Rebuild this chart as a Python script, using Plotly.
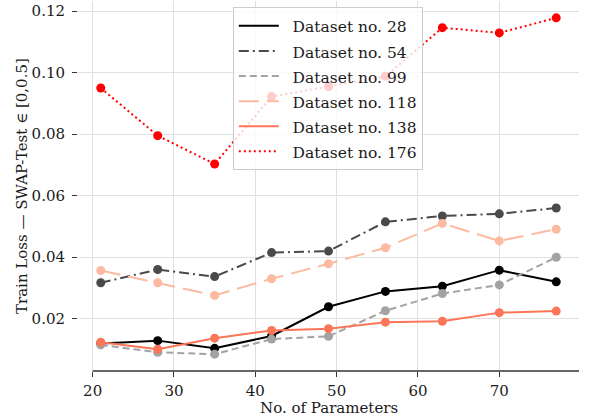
import plotly.graph_objects as go

params = [21, 28, 35, 42, 49, 56, 63, 70, 77]

ds_names = ["Dataset no. 28", "Dataset no. 54", "Dataset no. 99",
            "Dataset no. 118", "Dataset no. 138", "Dataset no. 176"]

loss_28 = [0.0120, 0.0129, 0.0104, 0.0144, 0.0239, 0.0289, 0.0306, 0.0358, 0.0320]
loss_54 = [0.0317, 0.0360, 0.0337, 0.0415, 0.0420, 0.0515, 0.0534, 0.0541, 0.0560]
loss_99 = [0.0115, 0.0091, 0.0085, 0.0134, 0.0143, 0.0226, 0.0282, 0.0310, 0.0400]
loss_118 = [0.0357, 0.0317, 0.0276, 0.0330, 0.0379, 0.0431, 0.0510, 0.0453, 0.0491]
loss_138 = [0.0124, 0.0101, 0.0137, 0.0162, 0.0168, 0.0189, 0.0192, 0.0220, 0.0225]
loss_176 = [0.0950, 0.0795, 0.0703, 0.0922, 0.0955, 0.0988, 0.1146, 0.1129, 0.1178]

series = [loss_28, loss_54, loss_99, loss_118, loss_138, loss_176]
colors = ["#000000", "#4a4a4a", "#a3a3a3", "#fcbba1", "#fb7558", "#ff0000"]
dashes = ["solid", "10px,4px,2px,4px", "7px,4px", "20px,8px", "solid", "2px,3px"]

x_ticks = [20, 30, 40, 50, 60, 70]
y_ticks = [0.02, 0.04, 0.06, 0.08, 0.10, 0.12]
y_ticklabels = ["0.02", "0.04", "0.06", "0.08", "0.10", "0.12"]

x_title = "No. of Parameters"
y_title = "Train Loss — SWAP-Test ∈ [0,0.5]"

FONT = "DejaVu Serif"
TXT = "#1a1a1a"

fig = go.Figure()
for name, ys, c, d in zip(ds_names, series, colors, dashes):
    fig.add_trace(go.Scatter(
        x=params, y=ys, mode="lines+markers", name=name,
        line=dict(color=c, width=2, dash=d),
        marker=dict(color=c, size=9),
        showlegend=False,
    ))
for name, c, d in zip(ds_names, colors, dashes):
    fig.add_trace(go.Scatter(
        x=[None], y=[None], mode="lines",
        name='\u00a0\u2009<span style="font-size:15.5px">' + name + '</span>',
        line=dict(color=c, width=2, dash=d),
        showlegend=True,
    ))

x_range = [18.2, 79.8]
y_range = [0.00303, 0.12327]

fig.add_shape(type="line", xref="x", yref="paper", x0=20, x1=x_range[1], y0=0, y1=0,
              line=dict(color="#333333", width=1.3))

fig.add_annotation(text=x_title, xref="paper", yref="paper", x=0.5, y=0,
                   yshift=-37, xanchor="center", yanchor="middle", showarrow=False,
                   font=dict(family=FONT, size=15, color=TXT))
fig.add_annotation(text=y_title, xref="paper", yref="paper", x=0, y=0.5,
                   xshift=-56, xanchor="center", yanchor="middle", textangle=-90,
                   showarrow=False, font=dict(family=FONT, size=15, color=TXT))

fig.update_layout(
    width=589, height=419,
    margin=dict(l=78, r=10, t=1, b=48, autoexpand=False),
    paper_bgcolor="white", plot_bgcolor="white",
    font=dict(family=FONT, size=15, color=TXT),
    showlegend=True,
    legend=dict(
        x=0.309, y=0.983, xanchor="left", yanchor="top",
        bgcolor="rgba(255,255,255,0.8)", bordercolor="#cccccc", borderwidth=1,
        font=dict(family=FONT, size=17, color=TXT),
        itemwidth=40, tracegroupgap=0,
    ),
    xaxis=dict(
        range=x_range, tickvals=x_ticks, ticktext=[str(v) for v in x_ticks],
        showgrid=True, gridcolor="#e0e0e0", gridwidth=1,
        zeroline=False, showline=False, automargin=False,
        ticks="outside", ticklen=5, tickwidth=1.2, tickcolor="#333333",
        ticklabelstandoff=1, tickfont=dict(family=FONT, size=15, color=TXT),
    ),
    yaxis=dict(
        range=y_range, tickvals=y_ticks, ticktext=y_ticklabels,
        showgrid=True, gridcolor="#e0e0e0", gridwidth=1,
        zeroline=False, showline=False, automargin=False,
        ticks="outside", ticklen=5, tickwidth=1.2, tickcolor="#333333",
        ticklabelstandoff=4, tickfont=dict(family=FONT, size=15, color=TXT),
    ),
)

fig.write_html("out.html", config={"displayModeBar": False},
               post_script="document.body.style.margin='0';")
